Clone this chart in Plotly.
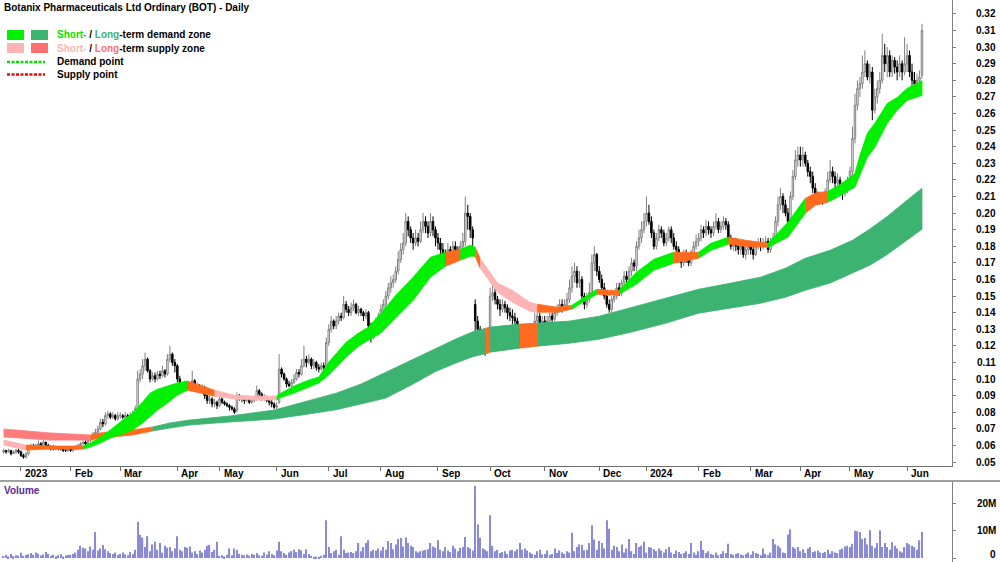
import pandas as pd
import plotly.graph_objects as go

UNIT = 0.001  # all prices below are in thousandths of a dollar

# ---------------- trading calendar (ASX) ----------------
holidays = ["2022-12-26", "2022-12-27", "2023-01-02", "2023-01-26", "2023-04-07", "2023-04-10",
            "2023-04-25", "2023-06-12", "2023-12-25", "2023-12-26", "2024-01-01", "2024-01-26",
            "2024-03-29", "2024-04-01", "2024-04-25", "2024-06-10"]
dates = [d for d in pd.bdate_range("2022-12-20", "2024-06-12") if d.strftime("%Y-%m-%d") not in holidays]

# ---------------- daily OHLC (thousandths of $) ----------------
opens = [
    56,57,56,57,55,56,57,
    56,54,53,55,59,60,59,60,61,60,62,60,59,59,58,59,58,58,57,57,
    58,57,58,58,60,61,62,61,63,64,67,68,70,74,73,78,79,77,78,76,
    78,78,77,78,77,78,79,82,100,103,108,112,105,100,102,100,103,102,105,103,112,115,110,
    108,100,96,95,97,95,96,99,95,96,94,95,90,87,88,85,86,
    84,88,86,85,84,83,82,81,90,89,88,87,88,86,87,88,93,91,88,89,87,86,85,
    83,86,106,103,100,97,96,98,100,104,103,108,112,110,112,108,110,107,106,108,108,
    122,130,135,132,135,138,137,145,142,140,143,145,140,142,140,138,140,132,125,130,135,
    138,142,145,150,155,158,160,165,172,178,182,195,190,185,182,185,183,190,195,192,188,195,190,
    185,182,178,175,172,178,175,180,178,175,180,183,200,198,190,145,135,130,120,125,118,
    122,150,152,148,145,142,145,143,140,138,137,135,128,122,125,128,127,128,126,135,138,133,
    135,132,135,138,136,140,142,145,143,145,148,155,162,165,158,160,150,145,148,152,170,175,
    165,160,155,150,145,142,148,150,155,152,158,162,160,165,170,168,180,185,190,
    195,200,195,188,180,185,190,188,182,185,190,185,180,178,172,170,175,172,170,175,180,
    183,185,190,188,192,190,188,192,195,190,192,195,193,185,180,182,180,178,180,175,178,
    180,178,175,180,182,180,182,183,178,182,185,195,205,210,205,200,195,210,222,232,
    235,232,235,230,225,222,215,210,208,210,208,212,220,225,222,218,220,215,212,215,
    218,225,245,265,275,278,285,290,282,285,262,270,275,280,295,290,295,285,292,288,285,290,285,
    290,295,285,280,278,280,283,
]
highs = [
    58,57,58,57,57,58,58,
    57,55,56,60,61,61,61,63,62,64,62,61,60,60,60,59,59,58,58,59,
    59,59,60,61,62,63,63,64,66,68,70,72,76,76,80,81,80,80,79,80,
    80,79,80,79,80,81,84,105,106,112,116,113,106,104,104,105,105,108,106,115,120,116,112,
    109,102,98,99,98,98,105,100,98,97,97,96,91,90,89,88,87,
    90,89,87,86,85,84,83,92,91,90,89,90,88,89,90,96,94,92,91,90,89,88,86,
    86,115,107,104,101,99,100,103,106,106,112,120,114,115,113,112,111,109,110,110,125,
    133,138,136,138,140,140,150,147,144,146,148,146,144,143,141,142,141,134,132,137,140,
    145,148,153,158,162,163,168,177,182,188,200,198,192,188,190,188,195,200,198,195,200,198,192,
    188,185,182,178,182,180,183,183,180,183,188,210,205,200,192,148,138,132,128,127,125,
    155,158,155,150,148,148,147,145,143,142,140,137,130,130,132,131,131,130,140,142,140,138,
    138,138,140,140,143,145,148,148,148,152,160,168,170,168,165,162,152,152,158,175,180,176,
    168,163,158,153,148,150,153,158,158,160,165,165,168,173,172,183,190,195,200,
    210,205,198,190,188,193,192,190,188,192,192,188,183,180,175,178,178,175,178,183,187,
    188,193,192,196,195,192,195,200,197,195,198,197,195,187,185,185,183,183,182,182,183,
    183,181,183,185,185,185,186,185,185,188,198,210,215,212,208,203,213,226,238,240,
    240,240,237,232,228,225,218,213,213,212,215,225,232,228,225,224,222,218,218,222,
    228,252,272,280,282,295,298,292,290,288,275,280,285,308,302,300,298,295,294,292,295,292,306,
    302,298,290,285,284,286,314,
]
lows = [
    55,55,56,54,55,55,55,
    53,52,52,54,58,58,58,59,59,59,59,58,57,57,57,57,57,56,56,56,
    56,56,57,57,59,60,60,60,62,63,65,67,69,71,72,76,76,76,75,75,
    76,76,76,76,76,77,78,81,98,100,105,104,98,99,98,99,100,101,101,102,110,108,104,
    98,93,93,94,94,94,95,94,94,92,93,88,85,85,83,83,82,
    83,85,84,83,81,81,79,80,87,86,85,86,85,85,86,87,89,87,87,86,84,83,82,
    82,85,101,99,95,95,95,97,99,101,102,107,107,109,106,106,105,104,105,105,107,
    120,128,130,130,133,135,136,140,138,138,141,139,138,138,135,136,130,122,124,128,133,
    136,140,143,148,152,155,158,163,170,175,180,186,182,178,180,180,182,188,188,185,186,186,180,
    178,175,170,168,170,172,173,175,172,173,178,180,190,185,180,120,122,115,115,114,115,
    120,147,145,142,138,140,140,136,135,133,132,125,120,119,122,124,124,123,124,130,128,130,
    130,130,133,134,135,138,140,140,141,143,146,152,158,155,155,148,142,143,146,150,165,162,
    158,152,148,143,140,140,146,148,150,150,155,157,158,162,165,165,178,182,188,
    192,193,185,178,178,183,185,180,180,183,182,178,175,170,167,168,170,168,168,173,178,
    180,183,185,186,187,185,186,190,188,188,190,190,183,178,177,177,175,175,173,172,175,
    175,172,174,178,177,178,180,176,176,180,183,192,202,200,198,192,194,208,220,228,
    228,228,228,222,218,212,206,205,206,205,207,210,218,218,215,214,212,208,210,212,
    216,222,242,262,270,275,282,280,278,256,260,266,272,278,285,282,282,282,284,280,282,280,283,
    285,282,276,275,276,278,281,
]
closes = [
    57,56,57,55,56,57,56,
    54,53,55,59,60,59,60,61,60,62,60,59,59,58,59,58,58,57,57,58,
    57,58,58,60,61,62,61,63,64,67,68,70,74,73,78,79,77,78,76,78,
    78,77,78,77,78,79,82,100,103,108,112,105,100,102,100,103,102,105,103,112,115,110,108,
    100,96,95,97,95,96,99,95,96,94,95,90,87,88,85,86,84,
    88,86,85,84,83,82,80,90,89,88,87,88,86,87,88,93,91,88,89,87,86,85,83,
    84,106,103,100,97,96,98,100,104,103,108,112,110,112,108,110,107,106,108,107,122,
    130,135,132,135,138,137,145,142,140,143,145,140,142,140,138,140,132,125,130,135,138,
    142,145,150,155,158,160,165,172,178,182,195,190,185,182,185,183,190,195,192,188,195,190,185,
    182,178,175,172,178,175,180,178,175,180,183,200,198,190,185,135,130,120,125,118,122,
    150,152,148,145,142,145,143,140,138,137,135,128,122,125,128,127,128,126,135,138,133,135,
    132,135,138,136,140,142,145,143,145,148,155,162,165,158,160,150,145,148,152,170,175,165,
    160,155,150,145,142,148,150,155,152,158,162,160,165,170,168,180,185,190,195,
    200,195,188,180,185,190,188,182,185,190,185,180,178,172,170,175,172,170,175,180,183,
    185,190,188,192,190,188,192,195,190,192,195,193,185,180,182,180,178,180,175,178,180,
    178,175,180,182,180,182,183,178,182,185,195,205,210,205,200,195,210,222,232,235,
    232,235,230,225,222,215,210,208,210,208,212,220,225,222,218,220,215,212,215,218,
    225,245,265,275,278,285,290,282,285,262,270,275,280,295,290,295,285,292,288,285,290,285,290,
    295,285,280,278,280,282,310,
]
# daily volume, millions of shares
volume_m = [
    0.8,1.2,0.6,1.5,0.7,1.0,0.9,
    1.9,0.8,1.1,1.4,1.8,1.2,2.0,1.6,0.9,1.3,2.2,1.5,0.8,1.2,0.7,1.0,1.4,0.6,0.9,1.1,
    1.2,1.5,2.0,3.0,4.5,3.8,3.5,2.5,4.2,3.0,9.5,2.8,3.5,4.8,3.2,2.5,1.8,1.5,2.0,1.2,
    1.5,2.0,1.3,1.0,2.2,1.5,3.0,13.3,8.5,7.5,4.0,8.0,2.5,5.0,6.0,3.0,5.5,2.0,4.5,3.8,4.0,2.5,3.5,
    8.0,3.0,2.5,4.0,3.8,4.2,2.0,2.5,1.5,2.8,2.0,3.0,4.5,4.8,2.2,3.0,6.0,
    0.8,1.0,0.6,1.2,3.5,1.0,3.5,3.0,1.5,1.2,1.0,1.3,0.9,1.5,1.2,1.8,1.0,0.8,2.0,1.3,2.5,1.5,1.0,
    2.8,6.0,2.5,1.8,1.2,2.0,2.5,3.0,2.2,3.2,2.8,1.5,3.2,1.5,0.8,0.5,0.6,0.5,0.8,1.2,13.8,
    4.0,1.8,2.5,3.0,1.2,8.0,3.0,1.8,2.0,2.2,1.8,2.5,5.5,2.5,4.0,5.5,6.5,2.5,3.0,2.8,3.5,
    2.8,4.0,3.0,6.2,5.5,3.2,5.0,7.0,7.3,4.2,7.5,5.5,4.5,4.0,2.5,2.0,2.5,2.8,3.0,3.2,5.5,4.2,3.8,
    6.5,3.0,2.5,4.0,2.8,2.2,4.5,3.5,2.5,3.8,4.0,7.7,4.0,3.5,2.8,26.5,12.3,7.4,3.5,3.0,2.5,
    15.7,4.5,2.5,3.0,1.8,2.2,2.5,1.5,2.8,3.0,2.5,3.2,5.5,3.0,3.5,2.8,2.0,1.5,1.2,2.5,3.0,1.3,
    1.5,2.8,1.2,1.5,3.5,1.8,2.8,2.0,1.5,2.5,2.0,9.3,2.5,4.0,5.0,4.8,2.8,3.0,5.5,12.0,6.8,3.0,
    6.2,5.5,3.5,13.8,10.7,3.0,4.5,4.0,2.5,5.0,2.0,3.5,7.0,2.5,1.5,5.5,4.0,4.5,6.0,
    2.0,4.0,3.8,3.2,2.5,3.5,2.8,2.0,3.2,4.0,2.0,1.5,2.8,2.2,1.5,1.8,2.5,1.5,5.5,2.0,1.2,
    2.5,6.2,3.0,1.8,2.5,1.5,1.2,2.0,1.0,1.5,2.5,1.8,5.2,1.5,1.2,1.5,1.8,1.3,1.0,1.5,2.0,
    1.2,2.5,1.8,1.5,1.0,3.5,1.5,1.0,2.0,7.0,5.0,4.5,3.8,2.0,1.8,8.6,10.5,4.0,3.5,4.0,
    2.5,3.2,1.8,3.5,4.0,2.2,2.5,2.8,2.0,1.8,2.2,3.0,1.5,2.5,2.0,1.8,3.0,3.5,4.2,4.5,
    4.0,5.2,10.0,9.8,9.5,7.0,7.3,5.0,10.2,4.5,3.8,5.5,10.2,4.0,5.5,4.0,3.0,5.8,4.5,3.5,2.5,2.0,4.0,
    5.5,5.0,4.5,4.0,3.0,6.5,9.5,
]

# ---------------- zones (bar index, upper / lower edge, zone code of the stretch that starts there) ----
# d = demand, s = supply, o = price inside the zone
st_idx = [0,9,19,32,35,39,43,48,52,56,59,62,66,70,74,79,85,93,101,110,111,117,123,127,131,138,143,147,152,158,
          165,172,178,184,188,190,192,199,205,212,215,223,229,234,239,244,248,255,262,270,280,285,292,299,308,
          316,323,327,332,336,340,343,345,348,351,356,360,364,370]
st_hi = [63.2,60.2,59.6,59.6,61.4,65.1,69.3,75.3,79.5,86.1,91.5,93.9,95.8,97.6,98.8,96.4,93.3,90.3,89.7,89.7,
         90.9,95.8,99.4,101.2,110.2,122.2,127.7,131.3,139.7,150.5,161.4,173.4,176.4,178.2,180.6,179.4,172.8,
         157.8,153.5,146.3,145.1,143.3,144.5,149.3,154.1,153.5,153.5,164.4,172.2,176.4,176.4,181.8,185.5,
         183.6,181.8,194.5,208.9,212.0,213.1,216.2,220.4,224.0,234.8,248.1,254.1,266.1,269.7,275.1,279.9]
st_lo = [60.2,57.2,57.8,57.8,59.0,61.4,64.4,66.9,69.3,73.5,77.1,81.3,85.5,90.3,93.3,91.5,89.7,87.9,87.3,87.3,
         88.5,91.5,95.2,97.6,102.4,113.2,119.8,123.4,127.7,136.7,147.5,161.4,168.0,171.6,174.0,174.0,166.8,
         152.3,146.3,140.9,140.3,140.3,142.1,146.9,151.1,150.5,151.1,157.2,165.6,169.8,172.8,177.6,181.2,
         180.0,179.4,185.5,199.9,204.7,206.5,209.5,213.1,215.6,222.8,233.6,239.6,254.1,261.9,267.9,270.9]
st_zone = ("s o o d d d d d d d d d d d o o s s s d d d d d d d d d d d d d o d d o s s s s "
           "o o d d o o d d d o d d o o d d o o d d d d d d d d d d d").split()

lt_idx = [0,19,35,39,47,52,60,67,75,91,109,121,134,144,154,165,174,182,189,194,196,205,208,215,228,240,253,
          267,280,293,305,315,323,333,342,349,356,363,370]
lt_hi = [69.9,67.5,66.3,67.5,68.7,69.3,71.1,73.5,75.3,77.7,81.3,86.0,91.5,97.0,104.0,112.0,118.5,124.0,128.5,
         130.5,131.3,132.5,133.1,133.7,134.9,137.9,143.3,148.7,154.1,157.8,161.4,166.8,172.8,177.6,183.6,
         190.4,198.0,206.5,215.0]
lt_lo = [65.1,63.2,63.2,64.4,65.7,66.3,68.7,70.5,72.3,74.1,75.9,78.5,81.5,85.0,88.5,97.0,104.5,109.5,113.5,
         115.3,116.2,118.0,118.6,119.8,121.6,124.0,128.3,133.7,139.7,142.7,145.7,149.3,153.5,157.8,163.8,
         168.6,175.0,182.5,190.3]
lt_zone = ("s s o o o o d d d d d d d d d d d d d o d d o d d d d d d d d d d d d d d d d").split()

price_ticks = [round(0.05 + 0.01 * k, 2) for k in range(28)]
volume_ticks = [0, 10, 20]

n = len(dates)
assert len(opens) == n and len(highs) == n and len(lows) == n and len(closes) == n and len(volume_m) == n, \
    (n, len(opens), len(highs), len(lows), len(closes), len(volume_m))
assert len(st_idx) == len(st_hi) == len(st_lo) == len(st_zone)
assert len(lt_idx) == len(lt_hi) == len(lt_lo) == len(lt_zone)

xi = list(range(n))
FONT = "Liberation Sans, Arial, sans-serif"
ST_COL = {"d": "#00f000", "s": "#ffb4b4", "o": "#ff6a1f"}
LT_COL = {"d": "#3cb371", "s": "#ff7b7b", "o": "#ff6a1f"}


def band_traces(bx, bhi, blo, bzone, pal):
    out = []
    k = 0
    m = len(bx)
    while k < m - 1:
        z = bzone[k]
        j = k
        while j < m - 1 and bzone[j] == z:
            j += 1
        xs = bx[k:j + 1] + bx[k:j + 1][::-1]
        ys = [v * UNIT for v in bhi[k:j + 1]] + [v * UNIT for v in blo[k:j + 1][::-1]]
        out.append(go.Scatter(x=xs, y=ys, mode="lines", fill="toself", fillcolor=pal[z],
                              line=dict(color=pal[z], width=0.8), hoverinfo="skip",
                              showlegend=False, xaxis="x", yaxis="y"))
        k = j
    return out


fig = go.Figure()
for tr in band_traces(lt_idx, lt_hi, lt_lo, lt_zone, LT_COL):
    fig.add_trace(tr)
for tr in band_traces(st_idx, st_hi, st_lo, st_zone, ST_COL):
    fig.add_trace(tr)

fig.add_trace(go.Candlestick(
    x=xi, open=[v * UNIT for v in opens], high=[v * UNIT for v in highs],
    low=[v * UNIT for v in lows], close=[v * UNIT for v in closes],
    increasing=dict(line=dict(color="#808080", width=1), fillcolor="white"),
    decreasing=dict(line=dict(color="black", width=1), fillcolor="black"),
    whiskerwidth=0, hoverinfo="skip", showlegend=False, xaxis="x", yaxis="y"))

fig.add_trace(go.Bar(x=xi, y=volume_m, width=0.5, marker=dict(color="#8a8ad6", line=dict(width=0)),
                     hoverinfo="skip", showlegend=False, xaxis="x2", yaxis="y2"))

# month ticks
tick_idx, tick_txt = [], []
for i in range(1, n):
    if dates[i].month != dates[i - 1].month:
        tick_idx.append(i)
        tick_txt.append(str(dates[i].year) if dates[i].month == 1 else dates[i].strftime("%b"))

XR = [-1.45, 382.1]
ann = []
for i, t in zip(tick_idx, tick_txt):
    ann.append(dict(x=i + 0.8, xref="x", y=1 - 473.5 / 562, yref="paper", text="<b>%s</b>" % t,
                    showarrow=False, xanchor="left", yanchor="middle",
                    font=dict(family=FONT, size=10, color="black")))
for v in price_ticks:
    ann.append(dict(x=0.998, xref="paper", y=v, yref="y", text="<b>%.2f</b>" % v, showarrow=False,
                    xanchor="right", yanchor="middle", font=dict(family=FONT, size=10, color="black")))
for v in volume_ticks:
    if v == 0:
        ann.append(dict(x=0.998, xref="paper", y=0.0, yref="paper", text="<b>0</b>",
                        showarrow=False, xanchor="right", yanchor="bottom",
                        font=dict(family=FONT, size=10, color="black")))
    else:
        ann.append(dict(x=0.998, xref="paper", y=v, yref="y2", text="<b>%dM</b>" % v,
                        showarrow=False, xanchor="right", yanchor="middle",
                        font=dict(family=FONT, size=10, color="black")))

ann.append(dict(x=0.002, xref="paper", y=1 - 7.5 / 562, yref="paper",
                text="<b>Botanix Pharmaceuticals Ltd Ordinary (BOT) - Daily</b>", showarrow=False,
                xanchor="left", yanchor="middle", font=dict(family=FONT, size=10, color="black")))
ann.append(dict(x=0.002, xref="paper", y=1 - 490 / 562, yref="paper", text="<b>Volume</b>",
                showarrow=False, xanchor="left", yanchor="middle",
                font=dict(family=FONT, size=10, color="#5b2a91")))

legend_rows = [
    (35, "<b><span style='color:#00e600'>Short-</span> / <span style='color:#3cb371'>Long</span>-term demand zone</b>"),
    (48.5, "<b><span style='color:#ffb4b4'>Short-</span> / <span style='color:#ff7070'>Long</span>-term supply zone</b>"),
    (62, "<b>Demand point</b>"),
    (74.5, "<b>Supply point</b>"),
]
for py, txt in legend_rows:
    ann.append(dict(x=0.055, xref="paper", y=1 - py / 562, yref="paper", text=txt, showarrow=False,
                    xanchor="left", yanchor="middle", font=dict(family=FONT, size=10, color="black")))


def px_rect(x0, y0, x1, y1, col):
    return dict(type="rect", xref="paper", yref="paper", x0=x0 / 1000, x1=x1 / 1000,
                y0=1 - y1 / 562, y1=1 - y0 / 562, fillcolor=col, line=dict(width=0))


shapes = [
    px_rect(7, 30, 24, 40, "#00f000"), px_rect(31, 30, 48, 40, "#3cb371"),
    px_rect(7, 43, 24, 53, "#ffb4b4"), px_rect(31, 43, 48, 53, "#ff7070"),
    dict(type="line", xref="paper", yref="paper", x0=0.007, x1=0.045, y0=1 - 62 / 562, y1=1 - 62 / 562,
         line=dict(color="#00e000", width=2.5, dash="3px,1.5px")),
    dict(type="line", xref="paper", yref="paper", x0=0.007, x1=0.045, y0=1 - 74.5 / 562, y1=1 - 74.5 / 562,
         line=dict(color="#ff0000", width=2.5, dash="3px,1.5px")),
    dict(type="line", xref="paper", yref="paper", x0=0, x1=1, y0=1 - 481 / 562, y1=1 - 481 / 562,
         line=dict(color="#a0a0a0", width=2)),
]

fig.update_layout(
    width=1000, height=562, margin=dict(l=0, r=0, t=0, b=0),
    paper_bgcolor="white", plot_bgcolor="white", showlegend=False, boxgap=0.15,
    xaxis=dict(domain=[0, 0.952], range=XR, showgrid=False, zeroline=False, showline=True,
               linecolor="#6e6e6e", linewidth=1, ticks="outside", ticklen=4, tickcolor="#6e6e6e",
               tickvals=tick_idx, showticklabels=False, rangeslider=dict(visible=False),
               anchor="y", fixedrange=True),
    yaxis=dict(domain=[96 / 562, 1], range=[0.0476, 0.3284], side="right", anchor="x",
               showgrid=False, zeroline=False, showline=True, linecolor="#808080", linewidth=1,
               ticks="outside", ticklen=3, tickcolor="#808080", tickvals=price_ticks,
               showticklabels=False),
    xaxis2=dict(domain=[0, 0.952], range=XR, anchor="y2", showgrid=False, zeroline=False,
                showline=False, showticklabels=False, ticks=""),
    yaxis2=dict(domain=[0, 81 / 562], range=[-1.45, 28.2], side="right", anchor="x2",
                showgrid=False, zeroline=False, showline=True, linecolor="#808080", linewidth=1,
                ticks="outside", ticklen=3, tickcolor="#808080", tickvals=volume_ticks,
                showticklabels=False),
    annotations=ann, shapes=shapes,
)

fig.write_html("out.html", config={"displayModeBar": False})
